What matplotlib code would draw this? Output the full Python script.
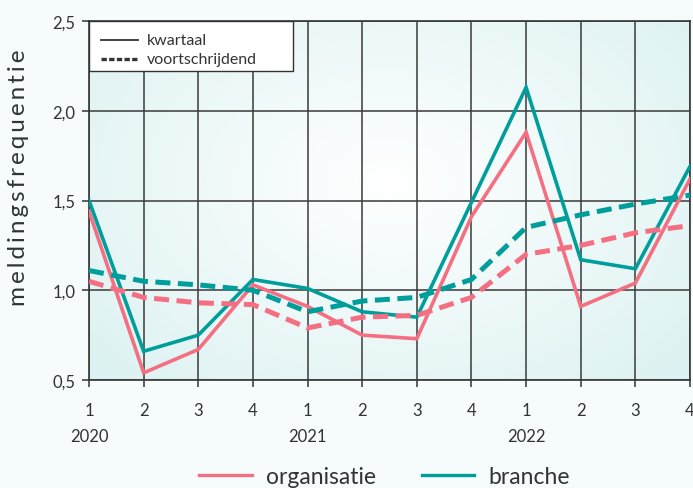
import numpy as np
import matplotlib
matplotlib.use("Agg")
from matplotlib import pyplot as plt
from matplotlib.lines import Line2D
from matplotlib.patches import Rectangle

quarters = ["1", "2", "3", "4", "1", "2", "3", "4", "1", "2", "3", "4"]
years = ["2020", "2021", "2022"]

org_kwartaal = [1.44, 0.54, 0.67, 1.03, 0.91, 0.75, 0.73, 1.41, 1.88, 0.91, 1.04, 1.62]
branche_kwartaal = [1.50, 0.66, 0.75, 1.06, 1.01, 0.88, 0.85, 1.49, 2.13, 1.17, 1.12, 1.69]
org_voort = [1.05, 0.96, 0.93, 0.92, 0.79, 0.85, 0.86, 0.96, 1.20, 1.25, 1.32, 1.36]
branche_voort = [1.11, 1.05, 1.03, 1.00, 0.88, 0.94, 0.96, 1.06, 1.35, 1.42, 1.48, 1.53]

pink = "#F46F82"
teal = "#009E9A"
dark = "#333333"

plt.rcParams["font.family"] = ["Lato", "DejaVu Sans"]

fig = plt.figure(figsize=(6.93, 4.89), dpi=100, facecolor="#F6FBFC")
ax = fig.add_axes([89/693, 1-381/489, 601/693, 359/489])
ax.set_facecolor("white")

# radial background gradient
gx, gy = np.meshgrid(np.linspace(0, 1, 300), np.linspace(0, 1, 200))
r = np.sqrt(((gx - 0.5) / 0.65) ** 2 + ((gy - 0.55) / 0.75) ** 2)
r = np.clip(r, 0, 1)
c0 = np.array([1.0, 1.0, 1.0])
c1 = np.array([0.87, 0.95, 0.95])
img = c0[None, None, :] * (1 - r[..., None]) + c1[None, None, :] * r[..., None]
ax.imshow(img, extent=[0, 1, 0, 1], transform=ax.transAxes, aspect="auto",
          origin="lower", zorder=0)

x = np.arange(len(quarters))
ax.set_xlim(0, len(quarters) - 1)
ax.set_ylim(0.5, 2.5)

ax.plot(x, org_kwartaal, color=pink, lw=2.6, zorder=3, solid_joinstyle="miter")
ax.plot(x, branche_kwartaal, color=teal, lw=2.6, zorder=3, solid_joinstyle="miter")
ax.plot(x, org_voort, color=pink, lw=3.6, ls=(0, (3, 1.5)), zorder=3)
ax.plot(x, branche_voort, color=teal, lw=3.6, ls=(0, (3, 1.5)), zorder=3)

ax.set_xticks(x)
ax.set_xticklabels(quarters)
ax.set_yticks([0.5, 1.0, 1.5, 2.0, 2.5])
ax.set_yticklabels(["0,5", "1,0", "1,5", "2,0", "2,5"])
ax.grid(True, color="#3a3a3a", lw=1.1, zorder=1)
ax.set_axisbelow(False)
for gl in ax.get_xgridlines() + ax.get_ygridlines():
    gl.set_zorder(1)
ax.tick_params(axis="both", colors=dark, labelsize=12, length=5, width=1.1, direction="out")
ax.tick_params(axis="x", pad=11)
ax.tick_params(axis="y", pad=5)
for s in ["left", "bottom", "top", "right"]:
    ax.spines[s].set_color(dark)
    ax.spines[s].set_linewidth(1.2)
    ax.spines[s].set_zorder(2)

for i, yr in enumerate(years):
    ax.text(i * 4, -0.155, yr, transform=ax.get_xaxis_transform(), ha="center",
            va="center", fontsize=12, color=dark)

fig.text(19/693, 1 - 178/489, "\u2009".join("meldingsfrequentie"), rotation=90,
         ha="center", va="center", fontsize=17.5, color=dark)

# legend box for line styles
ax.add_patch(Rectangle((0, 1 - 50/359), 204/601, 50/359, transform=ax.transAxes,
                       facecolor="white", edgecolor=dark, lw=1.0, zorder=5))
ax.add_line(Line2D([12/601, 49/601], [1 - 19/359] * 2, transform=ax.transAxes,
                   color=dark, lw=1.3, zorder=6))
ax.add_line(Line2D([12/601, 49/601], [1 - 38/359] * 2, transform=ax.transAxes,
                   color=dark, lw=2.4, ls=(0, (1.6, 0.7)), zorder=6))
ax.text(58/601, 1 - 19/359, "kwartaal", transform=ax.transAxes, va="center",
        fontsize=11.5, color=dark, zorder=6)
ax.text(58/601, 1 - 38/359, "voortschrijdend", transform=ax.transAxes, va="center",
        fontsize=11.5, color=dark, zorder=6)

bh = [Line2D([], [], color=pink, lw=2.4), Line2D([], [], color=teal, lw=2.4)]
fl = fig.legend(bh, ["organisatie", "branche"], loc="center", bbox_to_anchor=(0.555, 0.024),
                ncol=2, frameon=False, fontsize=16.5, handlelength=2.3, columnspacing=2.0,
                handletextpad=0.6)
for t in fl.get_texts():
    t.set_color(dark)

fig.savefig("out.png", dpi=100, facecolor=fig.get_facecolor())
